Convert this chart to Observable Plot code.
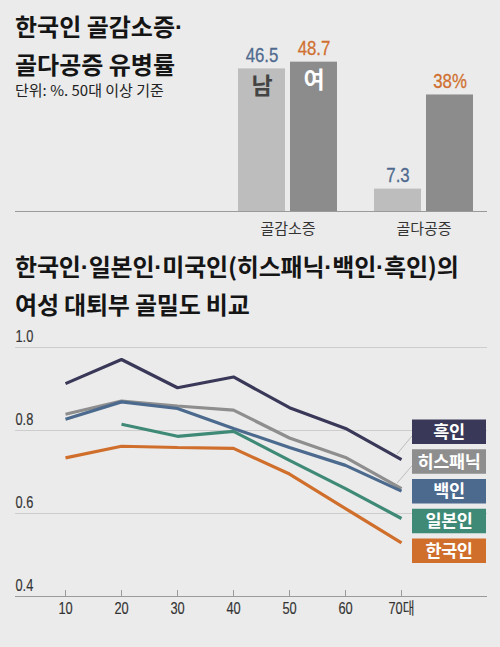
<!DOCTYPE html>
<html><head><meta charset="utf-8">
<script src="https://cdn.jsdelivr.net/npm/d3@7"></script>
<script src="https://cdn.jsdelivr.net/npm/@observablehq/plot@0.6"></script>
<style>
body{margin:0;background:#ebebeb;}
#wrap{position:relative;width:500px;height:647px;background:#ebebeb;overflow:hidden;font-family:"Noto Sans CJK KR",sans-serif;}
#top{position:absolute;left:0;top:0;}
#bottom{position:absolute;left:0;top:320px;}
.t{position:absolute;left:15px;font-weight:700;font-size:24px;color:#151515;letter-spacing:0px;white-space:nowrap;}
.t .d{font-family:"Liberation Sans",sans-serif;letter-spacing:0;position:relative;top:-1px;}
#t1{top:8px;line-height:36px;}
#t2{top:248px;line-height:35.5px;letter-spacing:-0.2px;}
#sub{position:absolute;left:15px;top:81px;font-size:15px;line-height:17px;color:#222;white-space:nowrap;font-family:"Liberation Sans Narrow","Noto Sans CJK KR",sans-serif;}
</style></head>
<body><div id="wrap">
<div id="top"></div>
<div id="bottom"></div>
<div class="t" id="t1">한국인 골감소증<span class="d">·</span><br>골다공증 유병률</div>
<div id="sub">단위: %. 50대 이상 기준</div>
<div class="t" id="t2">한국인<span class="d">·</span>일본인<span class="d">·</span>미국인(히스패닉<span class="d">·</span>백인<span class="d">·</span>흑인)의<br>여성 대퇴부 골밀도 비교</div>
</div>
<script>
// ---- Data: top chart ----
const groups = ["골감소증", "골다공증"];
const sexes = ["남", "여"];
const maleRates = [46.5, 7.3];
const femaleRates = [48.7, 38];
const maleRateLabels = ["46.5", "7.3"];
const femaleRateLabels = ["48.7", "38%"];

// ---- Data: bottom chart ----
const ageLabels = ["10", "20", "30", "40", "50", "60", "70대"];
const seriesNames = ["흑인", "히스패닉", "백인", "일본인", "한국인"];
const blackBMD    = [0.913, 0.971, 0.903, 0.929, 0.855, 0.805, 0.730];
const hispanicBMD = [0.839, 0.871, 0.859, 0.849, 0.782, 0.735, 0.660];
const whiteBMD    = [0.827, 0.869, 0.853, 0.805, 0.759, 0.716, 0.654];
const japaneseBMD = [null,  0.815, 0.786, 0.798, 0.728, 0.660, 0.588];
const koreanBMD   = [0.734, 0.762, 0.759, 0.757, 0.695, 0.612, 0.529];
const yTicks = [0.4, 0.6, 0.8, 1.0];

const seriesColors = ["#3a3858", "#8e8e8e", "#4b6a8e", "#3f8a77", "#d06f2c"];
const NUM = '"Liberation Sans Narrow","Liberation Sans","Noto Sans CJK KR",sans-serif';
const KR = '"Noto Sans CJK KR",sans-serif';

// narrow the numeric labels (reference uses a condensed face)
function condense(svgNode, ratio, weight) {
  d3.select(svgNode).selectAll("text").each(function () {
    if (/^[\d.%]+/.test(this.textContent) && this.getComputedTextLength) {
      const w = this.getComputedTextLength();
      if (w > 0) {
        this.setAttribute("textLength", (w * ratio).toFixed(2));
        this.setAttribute("lengthAdjust", "spacingAndGlyphs");
        const fill = getComputedStyle(this).fill;
        this.style.stroke = fill;
        this.style.strokeWidth = weight + "px";
      }
    }
  });
}

// ---- Top chart ----
const male = groups.map((g, i) => ({group: g, sex: sexes[0], value: maleRates[i], label: maleRateLabels[i]}));
const female = groups.map((g, i) => ({group: g, sex: sexes[1], value: femaleRates[i], label: femaleRateLabels[i]}));

const topPlot = Plot.plot({
  width: 500, height: 240,
  marginLeft: 15, marginRight: 13, marginTop: 27, marginBottom: 29,
  style: {background: "transparent", overflow: "visible", fontFamily: KR},
  x: {type: "band", domain: groups, paddingInner: 0.2715, paddingOuter: 0.866, align: 0.943, label: null},
  y: {domain: [0, 60], axis: null},
  marks: [
    Plot.barY(male, {x: "group", y: "value", fill: "#bdbdbd", insetRight: 52}),
    Plot.barY(female, {x: "group", y: "value", fill: "#8c8c8c", insetLeft: 52}),
    Plot.ruleY([0], {stroke: "#9a9a9a"}),
    Plot.text(male, {x: "group", y: "value", text: "label", dx: -26, dy: -14, lineAnchor: "middle", fill: "#4f6a8e", fontSize: 21, fontFamily: NUM}),
    Plot.text(female, {x: "group", y: "value", text: "label", dx: 26, dy: -14, lineAnchor: "middle", fill: "#d07030", fontSize: 21, fontFamily: NUM}),
    Plot.text(male.slice(0, 1), {x: "group", y: "value", text: "sex", dx: -26, dy: 18, lineAnchor: "middle", fill: "#444", fontSize: 23, fontWeight: 700, fontFamily: KR}),
    Plot.text(female.slice(0, 1), {x: "group", y: "value", text: "sex", dx: 26, dy: 18, lineAnchor: "middle", fill: "#fff", fontSize: 23, fontWeight: 700, fontFamily: KR}),
    Plot.axisX({tickSize: 0, tickPadding: 12, fontSize: 15, fill: "#333", fontFamily: KR, label: null})
  ]
});
document.getElementById("top").appendChild(topPlot);
condense(topPlot, 0.8, 0.3);

// ---- Bottom chart ----
const seriesValues = [blackBMD, hispanicBMD, whiteBMD, japaneseBMD, koreanBMD];
const lineRows = seriesNames.flatMap((s, i) => ageLabels.map((a, j) => ({series: s, age: a, value: seriesValues[i][j]})));

const bottomPlot = Plot.plot({
  width: 500, height: 327,
  marginLeft: 15, marginRight: 13, marginTop: 27, marginBottom: 51,
  style: {background: "transparent", overflow: "visible", fontFamily: NUM},
  x: {type: "point", domain: ageLabels, padding: 1.169, align: 0.365, label: null},
  y: {domain: [0.4, 1.0], label: null},
  color: {domain: seriesNames, range: seriesColors},
  marks: [
    Plot.gridY([0.6, 0.8, 1.0], {stroke: "#cdcdcd", strokeOpacity: 1}),
    Plot.ruleY([0.4], {stroke: "#9a9a9a"}),
    Plot.axisY(yTicks, {tickSize: 0, tickPadding: 0, textAnchor: "start", dy: -10.5, tickFormat: d => d.toFixed(1), fontSize: 16, fill: "#333", label: null}),
    Plot.axisX({tickSize: -6, tickPadding: 12, stroke: "#9a9a9a", fill: "#333", fontSize: 16, label: null}),
    Plot.line(lineRows, {x: "age", y: "value", z: "series", stroke: "series", strokeWidth: 3.2, strokeLinecap: "butt", strokeLinejoin: "miter"})
  ]
});
document.getElementById("bottom").appendChild(bottomPlot);
condense(bottomPlot, 0.8, 0.15);

// ---- Legend boxes with leaders ----
const svg = d3.select(bottomPlot);
const xs = bottomPlot.scale("x"), ys = bottomPlot.scale("y");
const LEG = {x: 412, w: 74, top: 99.5, step: 29.75, h: 24.5};
const lastAge = ageLabels[ageLabels.length - 1];
const leaderCount = 2;
seriesNames.forEach((s, i) => {
  const top = LEG.top + i * LEG.step;
  if (i < leaderCount) {
    const vals = seriesValues[i];
    svg.append("line")
      .attr("x1", LEG.x).attr("y1", top + LEG.h - 8)
      .attr("x2", xs.apply(lastAge) - 4).attr("y2", ys.apply(vals[vals.length - 1]) - 5)
      .attr("stroke", "#bdbdbd").attr("stroke-width", 1);
  }
  svg.append("rect").attr("x", LEG.x).attr("y", top).attr("width", LEG.w).attr("height", LEG.h).attr("fill", seriesColors[i]);
  svg.append("text").attr("x", LEG.x + LEG.w / 2).attr("y", top + LEG.h / 2).attr("dy", "0.35em")
    .attr("text-anchor", "middle").attr("fill", "#fff").attr("font-size", 17.5).attr("font-weight", 700)
    .attr("font-family", KR).attr("letter-spacing", "-0.4").text(s);
});
</script>
</body></html>
